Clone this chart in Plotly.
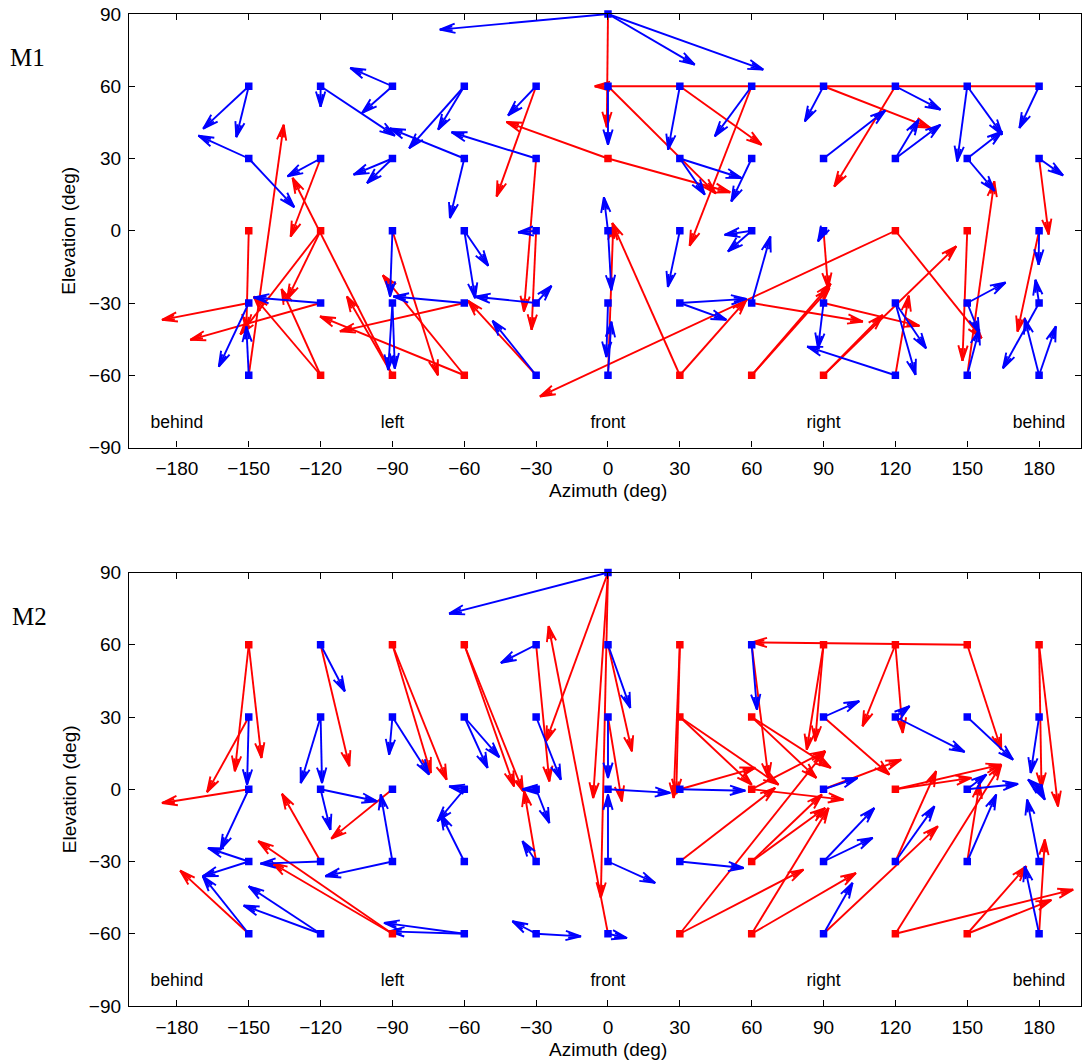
import math
import plotly.graph_objects as go

RED = "#ff0000"
BLUE = "#0000ff"

AZ_TICKS = [-180, -150, -120, -90, -60, -30, 0, 30, 60, 90, 120, 150, 180]
EL_TICKS = [-90, -60, -30, 0, 30, 60, 90]
AZ_RANGE = [-200, 197.5]
EL_RANGE = [-90, 90]

REGION_NAMES = ["behind", "left", "front", "right", "behind"]
REGION_AZ = [-180, -90, 0, 90, 180]
REGION_EL = -80

PANEL_NAMES = ["M1", "M2"]

# target positions (azimuth, elevation, square colour)
M1_SQUARES = [
    (0, 90, "b"),
    (-150, 60, "b"), (-120, 60, "b"), (-90, 60, "b"), (-60, 60, "b"), (-30, 60, "b"), (0, 60, "b"),
    (30, 60, "b"), (60, 60, "b"), (90, 60, "b"), (120, 60, "b"), (150, 60, "b"), (180, 60, "b"),
    (-150, 30, "b"), (-120, 30, "b"), (-90, 30, "b"), (-60, 30, "b"), (-30, 30, "b"), (0, 30, "r"),
    (30, 30, "b"), (60, 30, "b"), (90, 30, "b"), (120, 30, "b"), (150, 30, "b"), (180, 30, "b"),
    (-150, 0, "r"), (-120, 0, "r"), (-90, 0, "b"), (-60, 0, "b"), (-30, 0, "b"), (0, 0, "b"),
    (30, 0, "b"), (60, 0, "b"), (90, 0, "b"), (120, 0, "r"), (150, 0, "r"), (180, 0, "b"),
    (-150, -30, "b"), (-120, -30, "b"), (-90, -30, "b"), (-60, -30, "b"), (-30, -30, "b"), (0, -30, "b"),
    (30, -30, "b"), (60, -30, "b"), (90, -30, "b"), (120, -30, "b"), (150, -30, "b"), (180, -30, "b"),
    (-150, -60, "b"), (-120, -60, "r"), (-90, -60, "r"), (-60, -60, "r"), (-30, -60, "b"), (0, -60, "b"),
    (30, -60, "r"), (60, -60, "r"), (90, -60, "r"), (120, -60, "b"), (150, -60, "b"), (180, -60, "b"),
]

# responses: from (azimuth, elevation) to (azimuth, elevation), colour
M1_ARROWS = [
    (-150, 60, -169, 42.4, "b"), (-150, 60, -155.2, 38.9, "b"),
    (-150, 30, -171, 39.5, "b"), (-150, 30, -131, 9.8, "b"),
    (-120, 60, -120, 51.5, "b"), (-120, 60, -89, 39.5, "b"),
    (-120, 30, -133.8, 22.6, "b"), (-120, 30, -132.5, -2.4, "r"),
    (-90, 60, -107.6, 67.6, "b"), (-90, 60, -102.7, 48.9, "b"),
    (-90, 30, -106.2, 23.3, "b"), (-90, 30, -100.6, 19.8, "b"),
    (-60, 60, -70.9, 42, "b"), (-60, 60, -83, 34.3, "b"),
    (-60, 30, -66, 5.3, "b"), (-60, 30, -91, 42.5, "b"),
    (-30, 60, -41.7, 47.9, "b"), (-30, 60, -46.5, 14.3, "r"),
    (-30, 30, -65.3, 40.9, "b"), (-30, 30, -35.1, -33.5, "r"),
    (0, 90, -70.2, 83.5, "b"), (0, 90, 36.2, 69, "b"), (0, 90, 64.8, 66.9, "b"), (0, 90, -0.5, 43, "r"),
    (0, 60, 0, 35.7, "b"), (0, 60, 45, 15.5, "r"),
    (0, 30, -42.4, 45.2, "r"), (0, 30, 51, 16, "r"),
    (30, 60, 25.1, 33.7, "b"), (30, 60, 64.1, 35.7, "r"),
    (60, 60, 44.6, 39.2, "b"), (60, 60, 34.1, -6.2, "r"),
    (90, 60, 82.2, 45.4, "b"), (90, 60, 134.6, 42.7, "r"),
    (120, 60, 138.8, 50.3, "b"), (120, 60, 94.5, 18.4, "r"),
    (150, 60, 145.8, 28.8, "b"), (150, 60, 164.6, 39.9, "b"),
    (180, 60, 171.8, 42.7, "b"), (180, 60, -5.5, 60, "r"),
    (30, 30, 40.4, 15, "b"), (30, 30, 55.7, 21.9, "b"),
    (60, 30, 51.5, 12.2, "b"),
    (90, 30, 115.8, 49.9, "b"),
    (120, 30, 129.7, 46.1, "b"), (120, 30, 138.8, 44, "b"),
    (150, 30, 164.6, 41.3, "b"), (150, 30, 161.4, 16.6, "b"),
    (180, 30, 190, 23, "b"), (180, 30, 184, -1.5, "r"),
    (-150, 0, -151, -41, "r"),
    (-120, 0, -134, -28.5, "r"), (-120, 0, -153.5, -43, "r"),
    (-90, 0, -91, -27.3, "b"), (-90, 0, -71, -60, "r"),
    (-60, 0, -50, -14.5, "b"), (-60, 0, -55.5, -28, "b"),
    (-30, 0, -37.5, -0.7, "b"), (-30, 0, -31.9, -41.1, "r"),
    (0, 0, -1.7, 13.9, "b"), (0, 0, 1.4, -24.7, "b"),
    (30, 0, 25, -23.3, "b"),
    (60, 0, 48.7, -1.7, "b"), (60, 0, 50.1, -8.6, "b"),
    (90, 0, 87.7, -4.4, "b"), (90, 0, 91.9, -23.8, "r"),
    (120, 0, -28.4, -68.8, "r"), (120, 0, 156, -44.6, "r"),
    (150, 0, 148, -54, "r"),
    (180, 0, 179.8, -14.1, "b"), (180, 0, 171, -41.8, "r"),
    (-150, -30, -162.5, -56.4, "b"), (-150, -30, -186.2, -37, "r"),
    (-120, -30, -147.9, -27.7, "b"), (-120, -30, -174.4, -45.3, "r"),
    (-90, -30, -91.8, -57.8, "b"), (-90, -30, -89, -57.2, "b"),
    (-60, -30, -89.6, -27.3, "b"), (-60, -30, -111.9, -41.8, "r"),
    (-30, -30, -55.5, -27.4, "b"), (-30, -30, -23.6, -22.9, "b"),
    (0, -30, -0.7, -52.4, "b"),
    (30, -30, 57.8, -28.3, "b"), (30, -30, 49.4, -37, "b"),
    (60, -30, 67.8, -2.4, "b"), (60, -30, 106.4, -37.7, "r"),
    (90, -30, 87.7, -48.8, "b"), (90, -30, 130, -39.5, "r"),
    (120, -30, 128.4, -59.8, "b"), (120, -30, 132.8, -48.8, "b"),
    (150, -30, 166, -21.5, "b"), (150, -30, 155, -42.5, "b"),
    (180, -30, 178.5, -20.4, "b"), (180, -30, 164.9, -57.1, "b"),
    (-150, -60, -151, -39.8, "b"), (-150, -60, -135.4, 44, "r"),
    (-120, -60, -147.9, -27.3, "r"), (-120, -60, -136.3, -24.2, "r"),
    (-90, -60, -131.7, 21.9, "r"), (-90, -60, -109, -27.3, "r"),
    (-60, -60, -94, -18.5, "r"), (-60, -60, -120.2, -35.6, "r"),
    (-30, -60, -48.2, -37.4, "b"), (-30, -60, -58.4, -29.1, "r"),
    (0, -60, 1.4, -37.8, "b"), (0, -60, 2.2, 2.5, "r"),
    (30, -60, 1.8, 3.2, "r"), (30, -60, 57.8, -28.7, "r"),
    (60, -60, 92.5, -23.8, "r"), (60, -60, 93, -22, "r"),
    (90, -60, 145.4, -6.5, "r"), (90, -60, 114.7, -35, "r"),
    (120, -60, 83.2, -48.1, "b"), (120, -60, 125.6, -27, "r"),
    (150, -60, 155, -41, "b"), (150, -60, 161.3, 20.5, "r"),
    (180, -60, 174, -36.5, "b"), (180, -60, 187, -39.7, "b"),
]

M2_SQUARES = [
    (0, 90, "b"),
    (-150, 60, "r"), (-120, 60, "b"), (-90, 60, "r"), (-60, 60, "r"), (-30, 60, "b"), (0, 60, "b"),
    (30, 60, "r"), (60, 60, "b"), (90, 60, "r"), (120, 60, "r"), (150, 60, "r"), (180, 60, "r"),
    (-150, 30, "b"), (-120, 30, "b"), (-90, 30, "b"), (-60, 30, "b"), (-30, 30, "b"), (0, 30, "b"),
    (30, 30, "r"), (60, 30, "r"), (90, 30, "b"), (120, 30, "b"), (150, 30, "b"), (180, 30, "b"),
    (-150, 0, "b"), (-120, 0, "b"), (-90, 0, "b"), (-60, 0, "b"), (-30, 0, "b"), (0, 0, "b"),
    (30, 0, "b"), (60, 0, "r"), (90, 0, "b"), (120, 0, "r"), (150, 0, "b"), (180, 0, "b"),
    (-150, -30, "b"), (-120, -30, "b"), (-90, -30, "b"), (-60, -30, "b"), (-30, -30, "b"), (0, -30, "b"),
    (30, -30, "b"), (60, -30, "r"), (90, -30, "b"), (120, -30, "b"), (150, -30, "b"), (180, -30, "b"),
    (-150, -60, "b"), (-120, -60, "b"), (-90, -60, "r"), (-60, -60, "b"), (-30, -60, "b"), (0, -60, "b"),
    (30, -60, "r"), (60, -60, "r"), (90, -60, "b"), (120, -60, "r"), (150, -60, "r"), (180, -60, "b"),
]

M2_ARROWS = [
    (-150, 60, -155.8, 7.5, "r"), (-150, 60, -144.7, 13, "r"),
    (-120, 60, -109.9, 40.7, "b"), (-120, 60, -108, 9.6, "r"),
    (-90, 60, -74, 6.8, "r"), (-90, 60, -67.4, 4, "r"),
    (-60, 60, -39.2, 1.2, "r"), (-60, 60, -35.5, -0.8, "r"),
    (-30, 60, -44.7, 52.5, "b"), (-30, 60, -24.5, 3.3, "r"),
    (0, 60, 9.3, 33.8, "b"), (0, 60, 10, 15.8, "r"),
    (30, 60, 27.4, -3.6, "r"), (30, 60, 28.5, -2, "r"),
    (60, 60, 62.2, 33.1, "b"), (60, 60, 67, 4.7, "r"),
    (90, 60, 83, 16.5, "r"), (90, 60, 86.5, 20, "r"),
    (120, 60, 106.3, 26.2, "r"), (120, 60, 123.1, 23.4, "r"),
    (150, 60, 164.2, 16.5, "r"), (150, 60, 60, 61, "r"),
    (180, 60, 187.9, -7.1, "r"), (180, 60, 181, 0.6, "r"),
    (0, 90, -66.3, 72.9, "b"), (0, 90, -25.9, 19.9, "r"), (0, 90, -6.2, -3.6, "r"), (0, 90, -3, -45, "r"),
    (-150, 30, -150.7, 1.9, "b"), (-150, 30, -167.4, -1.2, "r"),
    (-120, 30, -128.3, 2.6, "b"), (-120, 30, -119.4, 2.6, "b"),
    (-90, 30, -91.4, 14.4, "b"), (-90, 30, -74.7, 6.1, "b"),
    (-60, 30, -50.3, 8.9, "b"), (-60, 30, -45.4, 13.3, "b"),
    (-30, 30, -19.7, 4, "b"),
    (0, 30, 0, 4.7, "b"), (0, 30, 5.8, -5, "r"),
    (30, 30, 60, 1.9, "r"), (30, 30, 71.2, 1.9, "r"),
    (60, 30, 87, 4.7, "r"), (60, 30, 93, 8.9, "r"),
    (90, 30, 104.9, 36.6, "b"), (90, 30, 117.5, 6.1, "r"),
    (120, 30, 125.9, 34.5, "b"), (120, 30, 148.9, 15.5, "b"),
    (150, 30, 169.1, 12.3, "b"),
    (180, 30, 176.5, 6.8, "b"),
    (-150, 0, -186.2, -5.7, "r"), (-150, 0, -161.8, -25.1, "b"),
    (-120, 0, -96.4, -5, "b"), (-120, 0, -115.9, -16.8, "b"),
    (-90, 0, -115.5, -20.5, "r"),
    (-60, 0, -66.3, 1.2, "b"), (-60, 0, -71.2, -13.3, "b"),
    (-30, 0, -35.7, 0, "b"), (-30, 0, -24.5, -14, "b"),
    (0, 0, 26, -1.5, "b"),
    (30, 0, 57.3, -0.6, "b"), (30, 0, 61.5, 8.9, "r"),
    (60, 0, 98.3, -4.3, "r"), (60, 0, 90.7, 15.8, "r"),
    (90, 0, 104.2, 4.7, "b"), (90, 0, 122.4, 12.3, "r"),
    (120, 0, 164.2, 10.2, "r"), (120, 0, 151.7, 4.7, "r"),
    (150, 0, 171.2, 2.2, "b"), (150, 0, 158, 6.1, "b"),
    (180, 0, 175.4, 4, "b"), (180, 0, 182.4, -4.3, "b"),
    (-150, -30, -167, -24.4, "b"), (-150, -30, -169.2, -36.1, "b"),
    (-120, -30, -145.1, -30.9, "b"), (-120, -30, -136.1, -1.9, "r"),
    (-90, -30, -118, -36.1, "b"), (-90, -30, -94.9, -2.2, "b"),
    (-60, -30, -69.8, -10.5, "b"),
    (-30, -30, -35.7, -21.6, "b"), (-30, -30, -35, -0.8, "r"),
    (0, -30, 0, -2.2, "b"), (0, -30, 19.7, -38.9, "b"),
    (30, -30, 56.6, -32.7, "b"), (30, -30, 69.8, 0.6, "r"),
    (60, -30, 90.7, -7.8, "r"), (60, -30, 89.3, -2.2, "r"),
    (90, -30, 111.2, -7.8, "b"), (90, -30, 110.5, -20.2, "b"),
    (120, -30, 136.3, -7.1, "b"), (120, -30, 137, 7.5, "r"),
    (150, -30, 162.1, -2.2, "b"), (150, -30, 155.2, 2.6, "r"),
    (180, -30, 175, -4.3, "b"),
    (-150, -60, -178.6, -33.8, "r"), (-150, -60, -169.2, -36.1, "b"),
    (-120, -60, -150, -40.3, "b"), (-120, -60, -152.1, -48.3, "b"),
    (-90, -60, -146, -21.6, "r"), (-90, -60, -140.3, -30.6, "r"),
    (-60, -60, -93.5, -55.5, "b"), (-60, -60, -91.4, -59, "b"),
    (-30, -60, -39.9, -54.8, "b"), (-30, -60, -11.3, -61.1, "b"),
    (0, -60, 7.9, -61.8, "b"), (0, -60, -24.8, 67.7, "r"),
    (30, -60, 90.7, 15.8, "r"), (30, -60, 81.6, -33.4, "r"),
    (60, -60, 92.1, -7.8, "r"), (60, -60, 103.5, -34.8, "r"),
    (90, -60, 102.1, -38.9, "b"), (90, -60, 137.7, -15.4, "r"),
    (120, -60, 164.2, 10.2, "r"), (120, -60, 194.2, -41.7, "r"),
    (150, -60, 174.7, -32, "r"), (150, -60, 185.1, -46, "r"),
    (180, -60, 174, -32, "b"), (180, -60, 182.4, -20.9, "r"),
]

# ---- page geometry (pixels) ----
FIG_W, FIG_H = 1082, 1064
M_L, M_R, M_T, M_B = 129, 1, 14, 58
PLOT_W = FIG_W - M_L - M_R
AREA_H = FIG_H - M_T - M_B
PANEL_TOP_PX = [14.0, 572.5]
PANEL_H_PX = 433.5

PX_PER_AZ = PLOT_W / (AZ_RANGE[1] - AZ_RANGE[0])
PX_PER_EL = PANEL_H_PX / (EL_RANGE[1] - EL_RANGE[0])

HEAD_LEN = 16.0
HEAD_ANGLE = math.radians(17)
COLOURS = {"r": RED, "b": BLUE}


def py_to_paper(py):
    return (FIG_H - M_B - py) / AREA_H


def px_to_paper(px):
    return (px - M_L) / PLOT_W


def clamp01(v):
    return min(1.0, max(0.0, v))


def arrow_paths(arrows, code):
    """Shaft plus a two-barbed head for every arrow of one colour."""
    xs, ys = [], []
    for a0, e0, a1, e1, c in arrows:
        if c != code:
            continue
        dx = (a1 - a0) * PX_PER_AZ
        dy = (e1 - e0) * PX_PER_EL
        length = math.hypot(dx, dy)
        ux, uy = dx / length, dy / length
        xs += [a0, a1, None]
        ys += [e0, e1, None]
        for head_len, ang in ((HEAD_LEN, HEAD_ANGLE), (HEAD_LEN * 0.8, HEAD_ANGLE * 0.55)):
            barbs = []
            for s in (1, -1):
                ca, sa = math.cos(s * ang), math.sin(s * ang)
                rx = -(ux * ca - uy * sa) * head_len
                ry = -(ux * sa + uy * ca) * head_len
                barbs.append((a1 + rx / PX_PER_AZ, e1 + ry / PX_PER_EL))
            xs += [barbs[0][0], a1, barbs[1][0], None]
            ys += [barbs[0][1], e1, barbs[1][1], None]
    return xs, ys


fig = go.Figure()
panels = [(M1_SQUARES, M1_ARROWS), (M2_SQUARES, M2_ARROWS)]
for i, (squares, arrows) in enumerate(panels):
    xa = "x" if i == 0 else "x2"
    ya = "y" if i == 0 else "y2"
    for code in ("r", "b"):
        xs, ys = arrow_paths(arrows, code)
        fig.add_trace(go.Scatter(
            x=xs, y=ys, mode="lines", xaxis=xa, yaxis=ya,
            line=dict(color=COLOURS[code], width=1.9),
            hoverinfo="skip", showlegend=False, cliponaxis=False,
        ))
    fig.add_trace(go.Scatter(
        x=[s[0] for s in squares], y=[s[1] for s in squares],
        mode="markers", xaxis=xa, yaxis=ya,
        marker=dict(symbol="square", size=7.5, color=[COLOURS[s[2]] for s in squares],
                    line=dict(width=0)),
        hoverinfo="skip", showlegend=False, cliponaxis=False,
    ))
    # region names along the bottom of each panel
    fig.add_trace(go.Scatter(
        x=REGION_AZ, y=[REGION_EL] * len(REGION_AZ), mode="text", text=REGION_NAMES,
        xaxis=xa, yaxis=ya, textfont=dict(size=17.5, color="black",
                                          family="Liberation Sans, Arial, sans-serif"),
        hoverinfo="skip", showlegend=False,
    ))

FONT = "Liberation Sans, Arial, Helvetica, sans-serif"


def minus(v):
    return str(v).replace("-", "\u2212")


axis_common = dict(
    showline=True, linecolor="black", linewidth=1.3, mirror="allticks",
    ticks="inside", ticklen=6, tickwidth=1, tickcolor="black",
    showgrid=False, zeroline=False,
    tickfont=dict(family=FONT, size=19, color="black"),
)

layout = dict(
    width=FIG_W, height=FIG_H,
    margin=dict(l=M_L, r=M_R, t=M_T, b=M_B, pad=0),
    paper_bgcolor="white", plot_bgcolor="white",
    showlegend=False,
    annotations=[],
)

for i in range(2):
    top = PANEL_TOP_PX[i]
    dom = [clamp01(py_to_paper(top + PANEL_H_PX)), clamp01(py_to_paper(top))]
    sx = "" if i == 0 else "2"
    layout["xaxis" + sx] = dict(
        axis_common, range=AZ_RANGE, tickvals=AZ_TICKS,
        ticktext=[minus(v) for v in AZ_TICKS], anchor="y" + sx, domain=[0, 1],
        ticklabelstandoff=4,
    )
    layout["yaxis" + sx] = dict(
        axis_common, range=EL_RANGE, tickvals=EL_TICKS,
        ticktext=[minus(v) for v in EL_TICKS], anchor="x" + sx, domain=dom,
        ticklabelstandoff=3,
    )
    layout["annotations"] += [
        dict(text="Azimuth (deg)", xref="paper", yref="paper",
             x=px_to_paper(608), y=py_to_paper(top + PANEL_H_PX + 43),
             showarrow=False, font=dict(family=FONT, size=19, color="black"),
             xanchor="center", yanchor="middle"),
        dict(text="Elevation (deg)", xref="paper", yref="paper",
             x=px_to_paper(69), y=py_to_paper(top + PANEL_H_PX / 2),
             showarrow=False, textangle=-90, font=dict(family=FONT, size=19, color="black"),
             xanchor="center", yanchor="middle"),
        dict(text=PANEL_NAMES[i], xref="paper", yref="paper",
             x=px_to_paper(8 + 2 * i), y=py_to_paper(top + 44),
             showarrow=False, font=dict(family="Liberation Serif, Times New Roman, serif",
                                        size=25, color="black"),
             xanchor="left", yanchor="middle"),
    ]

fig.update_layout(**layout)
fig.write_html("out.html")
